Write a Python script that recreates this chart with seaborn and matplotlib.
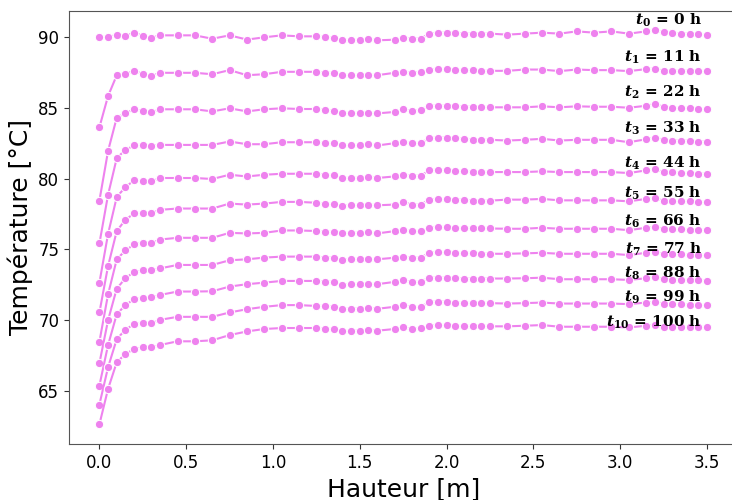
import numpy as np
import pandas as pd
import seaborn as sns
import matplotlib.pyplot as plt

# Hauteur (m)
hauteur = [0.0, 0.05, 0.1, 0.15, 0.2, 0.25, 0.3, 0.35,
           0.45, 0.55, 0.65, 0.75, 0.85, 0.95, 1.05, 1.15,
           1.25, 1.3, 1.35, 1.4, 1.45, 1.5, 1.55, 1.6,
           1.7, 1.75, 1.8, 1.85, 1.9, 1.95, 2.0, 2.05, 2.1, 2.15, 2.2, 2.25,
           2.35, 2.45, 2.55, 2.65, 2.75, 2.85, 2.95, 3.05,
           3.15, 3.2, 3.25, 3.3, 3.35, 3.4, 3.45, 3.5]

heures = [0, 11, 22, 33, 44, 55, 66, 77, 88, 99, 100]

T0 = [90.02, 90.0, 90.19, 90.12, 90.33, 90.12, 89.98, 90.14,
      90.14, 90.14, 89.9, 90.14, 89.84, 90.0, 90.14, 90.07,
      90.07, 90.02, 89.95, 89.79, 89.79, 89.79, 89.86, 89.79,
      89.83, 89.98, 89.91, 89.91, 90.26, 90.33, 90.33, 90.33, 90.26, 90.26, 90.26, 90.26,
      90.19, 90.26, 90.33, 90.26, 90.42, 90.33, 90.42, 90.26,
      90.42, 90.49, 90.37, 90.28, 90.26, 90.26, 90.21, 90.14]
T1 = [83.64, 85.85, 87.32, 87.44, 87.6, 87.44, 87.28, 87.49,
      87.49, 87.49, 87.39, 87.68, 87.32, 87.39, 87.56, 87.56,
      87.56, 87.49, 87.49, 87.32, 87.32, 87.32, 87.35, 87.32,
      87.49, 87.56, 87.49, 87.56, 87.68, 87.75, 87.75, 87.68, 87.68, 87.68, 87.63, 87.63,
      87.63, 87.72, 87.72, 87.61, 87.72, 87.68, 87.68, 87.61,
      87.75, 87.79, 87.63, 87.63, 87.63, 87.63, 87.63, 87.6]
T2 = [78.45, 81.97, 84.32, 84.62, 84.93, 84.79, 84.69, 84.91,
      84.91, 84.91, 84.76, 84.98, 84.76, 84.91, 84.98, 84.93,
      84.93, 84.86, 84.79, 84.62, 84.62, 84.62, 84.65, 84.62,
      84.72, 84.93, 84.79, 84.86, 85.16, 85.16, 85.16, 85.14, 85.09, 85.09, 85.05, 85.05,
      85.05, 85.05, 85.12, 85.05, 85.12, 85.09, 85.09, 85.02,
      85.16, 85.28, 85.09, 85.02, 84.98, 84.98, 84.93, 84.91]
T3 = [75.42, 78.87, 81.46, 82.04, 82.35, 82.35, 82.33, 82.39,
      82.39, 82.39, 82.39, 82.63, 82.44, 82.44, 82.58, 82.58,
      82.58, 82.51, 82.51, 82.35, 82.35, 82.35, 82.44, 82.35,
      82.51, 82.58, 82.51, 82.51, 82.86, 82.91, 82.91, 82.86, 82.82, 82.75, 82.75, 82.75,
      82.7, 82.75, 82.82, 82.7, 82.75, 82.75, 82.75, 82.58,
      82.79, 82.91, 82.75, 82.7, 82.7, 82.68, 82.63, 82.63]
T4 = [72.65, 76.1, 78.71, 79.41, 79.88, 79.81, 79.81, 80.05,
      80.05, 80.05, 79.98, 80.28, 80.16, 80.28, 80.35, 80.35,
      80.35, 80.28, 80.24, 80.05, 80.05, 80.05, 80.12, 80.05,
      80.16, 80.28, 80.21, 80.21, 80.59, 80.63, 80.59, 80.52, 80.52, 80.47, 80.47, 80.47,
      80.47, 80.47, 80.52, 80.47, 80.47, 80.47, 80.47, 80.4,
      80.59, 80.68, 80.47, 80.45, 80.4, 80.4, 80.35, 80.35]
T5 = [70.54, 73.83, 76.3, 77.1, 77.54, 77.58, 77.58, 77.8,
      77.89, 77.89, 77.89, 78.24, 78.17, 78.24, 78.36, 78.36,
      78.3, 78.19, 78.19, 78.1, 78.12, 78.12, 78.17, 78.12,
      78.17, 78.36, 78.17, 78.17, 78.52, 78.54, 78.57, 78.52, 78.52, 78.45, 78.45, 78.45,
      78.52, 78.52, 78.57, 78.47, 78.47, 78.47, 78.47, 78.4,
      78.57, 78.61, 78.45, 78.4, 78.4, 78.4, 78.36, 78.36]
T6 = [68.47, 71.83, 74.3, 74.93, 75.35, 75.47, 75.47, 75.7,
      75.82, 75.82, 75.82, 76.17, 76.13, 76.17, 76.34, 76.34,
      76.3, 76.24, 76.24, 76.13, 76.17, 76.17, 76.2, 76.13,
      76.29, 76.36, 76.29, 76.29, 76.53, 76.57, 76.57, 76.53, 76.48, 76.48, 76.48, 76.48,
      76.46, 76.46, 76.53, 76.46, 76.46, 76.46, 76.46, 76.36,
      76.53, 76.6, 76.46, 76.41, 76.41, 76.36, 76.34, 76.34]
T7 = [66.95, 70.0, 72.23, 72.96, 73.4, 73.52, 73.52, 73.66,
      73.9, 73.9, 73.9, 74.23, 74.3, 74.42, 74.49, 74.49,
      74.49, 74.42, 74.42, 74.25, 74.3, 74.3, 74.32, 74.3,
      74.41, 74.48, 74.41, 74.41, 74.76, 74.81, 74.81, 74.76, 74.72, 74.72, 74.69, 74.69,
      74.69, 74.72, 74.76, 74.69, 74.69, 74.69, 74.69, 74.6,
      74.76, 74.83, 74.69, 74.65, 74.65, 74.6, 74.58, 74.58]
T8 = [65.37, 68.24, 70.42, 71.06, 71.48, 71.55, 71.6, 71.78,
      72.02, 72.02, 72.04, 72.37, 72.54, 72.65, 72.77, 72.77,
      72.77, 72.73, 72.7, 72.49, 72.54, 72.54, 72.56, 72.54,
      72.7, 72.82, 72.7, 72.7, 73.0, 73.0, 73.0, 72.96, 72.94, 72.94, 72.94, 72.94,
      72.94, 72.96, 73.0, 72.89, 72.89, 72.89, 72.89, 72.84,
      72.96, 73.05, 72.89, 72.84, 72.84, 72.82, 72.82, 72.77]
T9 = [64.03, 66.67, 68.66, 69.32, 69.72, 69.77, 69.77, 70.02,
      70.23, 70.23, 70.23, 70.54, 70.77, 70.94, 71.06, 71.06,
      71.0, 71.0, 70.94, 70.77, 70.82, 70.8, 70.86, 70.8,
      70.94, 71.06, 70.94, 70.9, 71.29, 71.31, 71.31, 71.24, 71.2, 71.2, 71.2, 71.2,
      71.17, 71.2, 71.24, 71.17, 71.17, 71.17, 71.17, 71.13,
      71.24, 71.29, 71.17, 71.13, 71.13, 71.08, 71.06, 71.06]
T10 = [62.63, 65.14, 67.02, 67.6, 67.96, 68.08, 68.08, 68.24,
       68.5, 68.5, 68.57, 68.94, 69.2, 69.37, 69.44, 69.44,
       69.44, 69.37, 69.37, 69.2, 69.25, 69.25, 69.3, 69.25,
       69.37, 69.48, 69.37, 69.41, 69.6, 69.65, 69.65, 69.6, 69.56, 69.56, 69.56, 69.56,
       69.56, 69.6, 69.65, 69.53, 69.53, 69.53, 69.53, 69.48,
       69.6, 69.65, 69.53, 69.48, 69.48, 69.48, 69.48, 69.48]

profils = [T0, T1, T2, T3, T4, T5, T6, T7, T8, T9, T10]

sns.set_style("ticks", {'text.color': 'black', 'axes.labelcolor': 'black',
                        'xtick.color': 'black', 'ytick.color': 'black'})
plt.rcParams['mathtext.fontset'] = 'dejavuserif'

fig = plt.figure(figsize=(7.32, 5.0), dpi=100)
ax = fig.add_axes([0.0943, 0.112, 0.913, 0.8666])

for i, T in enumerate(profils):
    df = pd.DataFrame({'Hauteur': hauteur, 'T': T})
    sns.lineplot(data=df, x='Hauteur', y='T', color='violet', marker='o',
                 markersize=6, linewidth=1.5, ax=ax)

# labels au-dessus de chaque courbe
decal = [1.04, 0.98, 1.19, 0.93, 0.75, 0.62, 0.66, 0.45, 0.57, 0.52, 0.34]
for i, (T, h) in enumerate(zip(profils, heures)):
    ax.text(3.47, T[-1] + decal[i],
            r'$\mathbfit{t}_{\mathbf{' + str(i) + r'}}$' + f' = {h} h',
            ha='right', va='center', fontsize=11, fontweight='bold',
            family='DejaVu Serif', color='black')

ax.set_xticks([0.0, 0.5, 1.0, 1.5, 2.0, 2.5, 3.0, 3.5])
ax.set_yticks([65, 70, 75, 80, 85, 90])
ax.tick_params(labelsize=12, colors='black')
ax.tick_params(color='#333333')
ax.set_xlabel('Hauteur [m]', fontsize=18)
ax.set_ylabel('Température [°C]', fontsize=18)
for s in ax.spines.values():
    s.set_color('#555555')

fig.savefig('out.png', dpi=100)
